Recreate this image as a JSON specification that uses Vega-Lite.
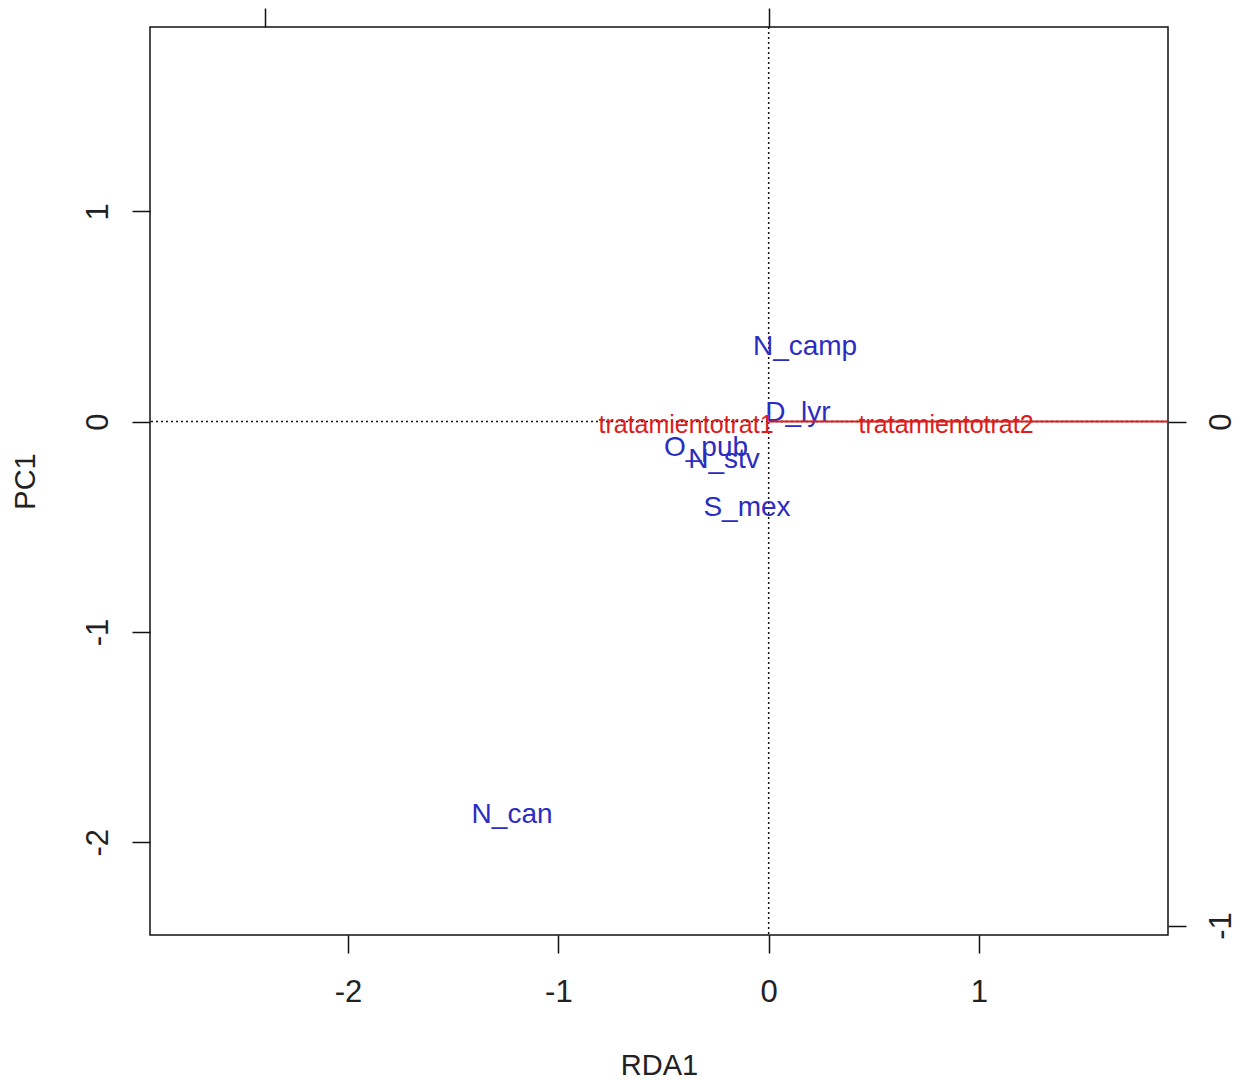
{
  "$schema": "https://vega.github.io/schema/vega-lite/v6.json",
  "width": 1018,
  "height": 908,
  "autosize": {"type": "none"},
  "padding": {"left": 150, "top": 27, "right": 74, "bottom": 145},
  "background": "white",
  "config": {
    "view": {"stroke": "#111111", "strokeWidth": 1.5},
    "font": "Liberation Sans",
    "axis": {
      "grid": false,
      "domain": false,
      "tickColor": "#111111",
      "tickWidth": 1.5,
      "tickSize": 18,
      "labelFont": "Liberation Sans",
      "labelFontSize": 31,
      "labelColor": "#222222",
      "labelExpr": "datum.value + ''",
      "titleFont": "Liberation Sans",
      "titleFontSize": 29,
      "titleFontWeight": "normal",
      "titleColor": "#222222"
    }
  },
  "datasets": {
    "species": [
      {"name": "N_camp", "x": 0.173, "y": 0.355},
      {"name": "D_lyr", "x": 0.139, "y": 0.041},
      {"name": "O_pub", "x": -0.298, "y": -0.126},
      {"name": "N_stv", "x": -0.212, "y": -0.183},
      {"name": "S_mex", "x": -0.103, "y": -0.411},
      {"name": "N_can", "x": -1.22, "y": -1.87}
    ],
    "treat": [
      {"name": "tratamientotrat1", "x": -0.164, "y": -0.007},
      {"name": "tratamientotrat2", "x": 0.352, "y": -0.007}
    ],
    "arrow": [
      {"x0": 0, "x1": 0.7923, "y": 0}
    ],
    "origin": [
      {"v": 0}
    ]
  },
  "layer": [
    {
      "layer": [
        {
          "data": {"name": "origin"},
          "mark": {"type": "rule", "color": "#111111", "strokeDash": [2, 3], "strokeWidth": 1.5},
          "encoding": {
            "x": {"field": "v", "type": "quantitative", "scale": {"domain": [-2.9414, 1.8986], "nice": false, "zero": false}}
          }
        },
        {
          "data": {"name": "origin"},
          "mark": {"type": "rule", "color": "#111111", "strokeDash": [2, 3], "strokeWidth": 1.5},
          "encoding": {
            "y": {"field": "v", "type": "quantitative", "scale": {"domain": [-2.4409, 1.8761], "nice": false, "zero": false}}
          }
        },
        {
          "data": {"name": "species"},
          "mark": {"type": "text", "font": "Liberation Sans", "fontSize": 28, "color": "#2c2cc0", "align": "center", "baseline": "middle"},
          "encoding": {
            "x": {
              "field": "x", "type": "quantitative",
              "scale": {"domain": [-2.9414, 1.8986], "nice": false, "zero": false},
              "axis": {"orient": "bottom", "values": [-2, -1, 0, 1], "labelPadding": 24, "title": "RDA1", "titleX": 509, "titleY": 130, "titleBaseline": "middle", "titleAnchor": "middle"}
            },
            "y": {
              "field": "y", "type": "quantitative",
              "scale": {"domain": [-2.4409, 1.8761], "nice": false, "zero": false},
              "axis": {"orient": "left", "values": [-2, -1, 0, 1], "labelAngle": 270, "labelPadding": 18, "title": "PC1", "titleX": -125, "titleY": 454, "titleAngle": 270, "titleBaseline": "middle", "titleAnchor": "middle"}
            },
            "text": {"field": "name", "type": "nominal"}
          }
        }
      ]
    },
    {
      "layer": [
        {
          "data": {"name": "arrow"},
          "mark": {"type": "rule", "color": "#dd1c1c", "strokeWidth": 2},
          "encoding": {
            "x": {"field": "x0", "type": "quantitative", "scale": {"domain": [-1.2275, 0.7923], "nice": false, "zero": false}, "axis": {"orient": "top", "values": [-1, 0], "labels": false, "tickSize": 19, "title": null}},
            "x2": {"field": "x1"},
            "y": {"field": "y", "type": "quantitative", "scale": {"domain": [-1.0187, 0.7829], "nice": false, "zero": false}, "axis": {"orient": "right", "values": [-1, 0], "labelAngle": 270, "labelPadding": 20, "title": null}}
          }
        },
        {
          "data": {"name": "treat"},
          "mark": {"type": "text", "font": "Liberation Sans", "fontSize": 25, "color": "#dd1c1c", "align": "center", "baseline": "middle"},
          "encoding": {
            "x": {"field": "x", "type": "quantitative", "scale": {"domain": [-1.2275, 0.7923], "nice": false, "zero": false}},
            "y": {"field": "y", "type": "quantitative", "scale": {"domain": [-1.0187, 0.7829], "nice": false, "zero": false}},
            "text": {"field": "name", "type": "nominal"}
          }
        }
      ]
    }
  ],
  "resolve": {"scale": {"x": "independent", "y": "independent"}, "axis": {"x": "independent", "y": "independent"}}
}
